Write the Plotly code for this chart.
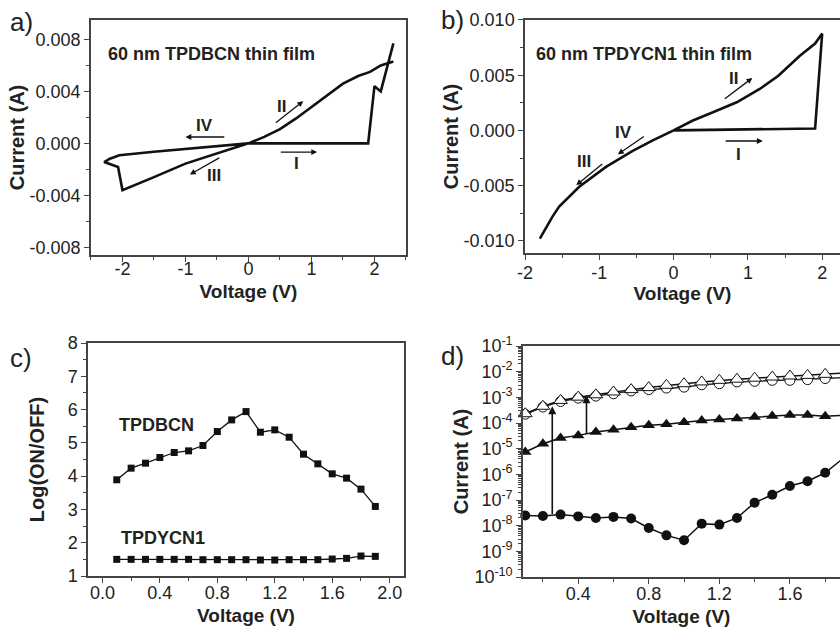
import plotly.graph_objects as go

# ---------------- data ----------------
# panel a: TPDBCN I-V sweep (None separates path pieces)
a_v = [0, 1.9, 2.0, 2.1, 2.3, None,
       2.3, 2.14, 2.1, 1.93, 1.75, 1.5, 1.25, 1.0, 0.75, 0.5, 0.25, 0,
       -0.5, -1.0, -1.5, -2.0, -2.07, -2.29, -2.2, -2.05, -1.5, -1.0, -0.5, 0]
a_i = [0, 0, 0.0044, 0.0040, 0.0077, None,
       0.0063, 0.0061, 0.0060, 0.0055, 0.0052, 0.0046, 0.0037, 0.0028, 0.0019, 0.0011, 0.0005, 0,
       -0.00079, -0.00156, -0.0026, -0.0036, -0.00182, -0.00144, -0.00118, -0.00092, -0.00065, -0.00045, -0.00022, 0]

# panel b: TPDYCN1 I-V sweep
b_v = [0, 0.5, 1.0, 1.5, 1.905, 2.0, 1.905, 1.70, 1.41, 1.16, 0.85, 0.53, 0.26, 0,
       -0.28, -0.55, -0.91, -1.27, -1.54, -1.63, -1.8]
b_i = [0, 0.00005, 0.0001, 0.00014, 0.00018, 0.00877, 0.00787, 0.00676, 0.00495, 0.00375,
       0.00255, 0.00165, 0.0009, 0, -0.0009, -0.00186, -0.0033, -0.0051, -0.0069, -0.0078, -0.0098]

# panel c: Log(ON/OFF)
c_v = [0.1, 0.2, 0.3, 0.4, 0.5, 0.6, 0.7, 0.8, 0.9, 1.0, 1.1, 1.2, 1.3, 1.4, 1.5, 1.6, 1.7, 1.8, 1.9]
c_tpdbcn = [3.89, 4.24, 4.39, 4.56, 4.71, 4.76, 4.92, 5.34, 5.69, 5.94, 5.32, 5.39, 5.17, 4.66,
            4.37, 4.07, 3.94, 3.61, 3.09]
c_tpdycn1 = [1.50, 1.50, 1.50, 1.50, 1.50, 1.50, 1.49, 1.49, 1.49, 1.49, 1.48, 1.48, 1.49, 1.49,
             1.49, 1.51, 1.53, 1.60, 1.59]

# panel d: log-scale currents
d_v = c_v
d_off_circle = [2.5e-8, 2.4e-8, 2.7e-8, 2.3e-8, 2.0e-8, 2.2e-8, 1.9e-8, 8.1e-9, 4.2e-9, 2.7e-9,
                1.2e-8, 1.1e-8, 2.0e-8, 7.9e-8, 1.6e-7, 3.5e-7, 5.4e-7, 1.15e-6, 4.1e-6]
d_off_tri = [7.4e-6, 1.55e-5, 2.6e-5, 3.3e-5, 4.5e-5, 5.5e-5, 6.9e-5, 8.1e-5, 9.0e-5, 1.07e-4,
             1.26e-4, 1.38e-4, 1.51e-4, 1.7e-4, 1.86e-4, 2.04e-4, 2.04e-4, 1.82e-4, 2.0e-4]
d_on_circle = [2.2e-4, 4.2e-4, 6.9e-4, 9.3e-4, 1.12e-3, 1.38e-3, 1.78e-3, 2.0e-3, 2.3e-3, 2.5e-3,
               3.1e-3, 3.4e-3, 4.0e-3, 4.2e-3, 4.6e-3, 4.6e-3, 4.9e-3, 5.4e-3, 5.9e-3]
d_on_tri = [2.3e-4, 4.5e-4, 7.6e-4, 1.02e-3, 1.26e-3, 1.62e-3, 2.0e-3, 2.4e-3, 2.95e-3, 3.4e-3,
            4.0e-3, 4.6e-3, 5.1e-3, 5.6e-3, 6.2e-3, 6.8e-3, 7.2e-3, 7.9e-3, 8.9e-3]

# tick labels
a_yticks = [0.008, 0.004, 0.0, -0.004, -0.008]
a_yticktext = ["0.008", "0.004", "0.000", "-0.004", "-0.008"]
a_xticks = [-2, -1, 0, 1, 2]
a_xticktext = ["-2", "-1", "0", "1", "2"]
b_yticks = [0.010, 0.005, 0.0, -0.005, -0.010]
b_yticktext = ["0.010", "0.005", "0.000", "-0.005", "-0.010"]
b_xticks = [-2, -1, 0, 1, 2]
b_xticktext = ["-2", "-1", "0", "1", "2"]
c_xticks = [0.0, 0.4, 0.8, 1.2, 1.6, 2.0]
c_xticktext = ["0.0", "0.4", "0.8", "1.2", "1.6", "2.0"]
c_yticks = [1, 2, 3, 4, 5, 6, 7, 8]
d_xticks = [0.4, 0.8, 1.2, 1.6]
d_xticktext = ["0.4", "0.8", "1.2", "1.6"]
d_yticks = [1e-1, 1e-2, 1e-3, 1e-4, 1e-5, 1e-6, 1e-7, 1e-8, 1e-9, 1e-10]
d_yticktext = ["10<sup>-%d</sup>" % n for n in range(1, 11)]

# ---------------- figure ----------------
FONT = "Liberation Sans, Arial, sans-serif"
AX = "#444"
TICKF = dict(family=FONT, size=18, color="#222")
XTITLEF = dict(family=FONT, size=19, color="#222", weight="bold")
YTITLEF = dict(family=FONT, size=20, color="#222", weight="bold")

fig = go.Figure()

fig.add_trace(go.Scatter(x=a_v, y=a_i, mode="lines", line=dict(color="#111", width=2.6),
                         xaxis="x", yaxis="y", showlegend=False, connectgaps=False))
fig.add_trace(go.Scatter(x=b_v, y=b_i, mode="lines", line=dict(color="#111", width=2.6),
                         xaxis="x2", yaxis="y2", showlegend=False))
fig.add_trace(go.Scatter(x=c_v, y=c_tpdbcn, mode="lines+markers",
                         line=dict(color="#111", width=1.3),
                         marker=dict(symbol="square", size=7, color="#111"),
                         xaxis="x3", yaxis="y3", showlegend=False))
fig.add_trace(go.Scatter(x=c_v, y=c_tpdycn1, mode="lines+markers",
                         line=dict(color="#111", width=1.3),
                         marker=dict(symbol="square", size=7, color="#111"),
                         xaxis="x3", yaxis="y3", showlegend=False))
fig.add_trace(go.Scatter(x=d_v, y=d_off_circle, mode="lines+markers",
                         line=dict(color="#111", width=1.5),
                         marker=dict(symbol="circle", size=10, color="#111"),
                         xaxis="x4", yaxis="y4", showlegend=False, cliponaxis=False))
fig.add_trace(go.Scatter(x=d_v, y=d_off_tri, mode="lines+markers",
                         line=dict(color="#111", width=1.5),
                         marker=dict(symbol="triangle-up", size=11, color="#111"),
                         xaxis="x4", yaxis="y4", showlegend=False, cliponaxis=False))
fig.add_trace(go.Scatter(x=d_v, y=d_on_circle, mode="lines+markers",
                         line=dict(color="#333", width=1.5),
                         marker=dict(symbol="circle", size=10, color="white",
                                     line=dict(color="#111", width=1)),
                         xaxis="x4", yaxis="y4", showlegend=False, cliponaxis=False))
fig.add_trace(go.Scatter(x=d_v, y=d_on_tri, mode="lines+markers",
                         line=dict(color="#111", width=1.5),
                         marker=dict(symbol="triangle-up", size=12, color="white",
                                     line=dict(color="#111", width=1)),
                         xaxis="x4", yaxis="y4", showlegend=False, cliponaxis=False))


def axis(domain, anchor, rng, title, tickvals, ticktext, minor_dtick, standoff, tf,
         typ="linear", lblstand=0):
    d = dict(domain=domain, anchor=anchor, range=rng, showgrid=False, zeroline=False,
             showline=True, linecolor=AX, linewidth=1.5, mirror=True,
             ticks="outside", ticklen=5, tickwidth=1.3, tickcolor=AX,
             tickvals=tickvals, ticktext=ticktext, tickfont=TICKF, automargin=False,
             ticklabelstandoff=lblstand,
             title=dict(text=title, font=tf, standoff=standoff), type=typ)
    if minor_dtick is not None:
        d["minor"] = dict(dtick=minor_dtick, ticks="outside", ticklen=3, tickwidth=1.1,
                          tickcolor=AX, showgrid=False)
    return d


fig.update_layout(
    width=840, height=628,
    margin=dict(l=0, r=0, t=0, b=0, pad=0, autoexpand=False),
    paper_bgcolor="white", plot_bgcolor="white",
    font=dict(family=FONT, color="#222"),
    xaxis=axis([0.1083, 0.4833], "y", [-2.5, 2.5], "Voltage (V)", a_xticks, a_xticktext, 0.5, 6, XTITLEF, lblstand=-8),
    yaxis=axis([0.5939, 0.9682], "x", [-0.0086, 0.0095], "Current (A)", a_yticks, a_yticktext, 0.002, 0, YTITLEF),
    xaxis2=axis([0.625, 1.0], "y2", [-2, 2.24], "Voltage (V)", b_xticks, b_xticktext, 0.5, 4, XTITLEF, lblstand=-2),
    yaxis2=axis([0.5971, 0.9682], "x2", [-0.0111, 0.0100], "Current (A)", b_yticks, b_yticktext, 0.0025, 0, YTITLEF),
    xaxis3=axis([0.1048, 0.481], "y3", [-0.1, 2.1], "Voltage (V)", c_xticks, c_xticktext, 0.2, 6, XTITLEF, lblstand=-5),
    yaxis3=axis([0.0828, 0.4538], "x3", [1, 8], "Log(ON/OFF)", c_yticks, [str(v) for v in c_yticks], 0.5, 18, YTITLEF),
    xaxis4=axis([0.6226, 1.0], "y4", [0.087, 1.884], "Voltage (V)", d_xticks, d_xticktext, 0.2, 6, XTITLEF, lblstand=-5),
    yaxis4=axis([0.0812, 0.449], "x4", [-10, -1], "Current (A)", d_yticks, d_yticktext, "D1", 0, YTITLEF, typ="log"),
)

ann = []
# panel letters
for txt, x, y in [("a)", 0.025, 0.965), ("b)", 0.539, 0.968), ("c)", 0.025, 0.43), ("d)", 0.539, 0.433)]:
    ann.append(dict(text=txt, x=x, y=y, xref="paper", yref="paper", showarrow=False,
                    font=dict(family=FONT, size=26, color="#222"), xanchor="center", yanchor="middle"))

LBL = dict(family=FONT, size=17, color="#222", weight="bold")


def label(text, x, y, xr, yr, size=None, xanchor="center"):
    f = dict(LBL)
    if size:
        f["size"] = size
    ann.append(dict(text=text, x=x, y=y, xref=xr, yref=yr, showarrow=False, font=f,
                    xanchor=xanchor, yanchor="middle"))


def arrow(x0, y0, x1, y1, xr, yr, width=1.3, head=0.9):
    ann.append(dict(x=x1, y=y1, ax=x0, ay=y0, xref=xr, yref=yr, axref=xr, ayref=yr,
                    showarrow=True, arrowhead=2, arrowsize=head, arrowwidth=width,
                    arrowcolor="#111", text=""))


# panel a
label("60 nm TPDBCN thin film", -2.26, 0.0069, "x", "y", size=18, xanchor="left")
label("II", 0.53, 0.0028, "x", "y")
arrow(0.41, 0.0015, 0.87, 0.00325, "x", "y")
label("IV", -0.7, 0.00138, "x", "y")
arrow(-0.36, 0.00049, -1.0, 0.00049, "x", "y")
label("III", -0.55, -0.00246, "x", "y")
arrow(-0.44, -0.00105, -0.93, -0.0024, "x", "y")
label("I", 0.77, -0.00156, "x", "y")
arrow(0.49, -0.00067, 1.09, -0.00067, "x", "y")

# panel b
label("60 nm TPDYCN1 thin film", -1.88, 0.0069, "x2", "y2", size=18, xanchor="left")
label("II", 0.80, 0.00466, "x2", "y2")
arrow(0.67, 0.00276, 1.06, 0.00475, "x2", "y2")
label("IV", -0.68, -0.00015, "x2", "y2")
arrow(-0.38, -0.00045, -0.75, -0.00216, "x2", "y2")
label("III", -1.2, -0.00285, "x2", "y2")
arrow(-0.94, -0.00294, -1.31, -0.00495, "x2", "y2")
label("I", 0.88, -0.00216, "x2", "y2")
arrow(0.68, -0.00096, 1.2, -0.00096, "x2", "y2")

# panel c
label("TPDBCN", 0.104, 5.54, "x3", "y3", size=18, xanchor="left")
label("TPDYCN1", 0.116, 2.13, "x3", "y3", size=18, xanchor="left")

# panel d arrows (log axis -> log10 positions)
arrow(0.253, -7.6, 0.253, -3.35, "x4", "y4", width=1.6, head=1.0)
arrow(0.447, -4.48, 0.447, -2.92, "x4", "y4", width=1.6, head=1.0)

fig.update_layout(annotations=ann)
fig.write_html("out.html", config={"displayModeBar": False},
               post_script="document.body.style.margin='0';")
